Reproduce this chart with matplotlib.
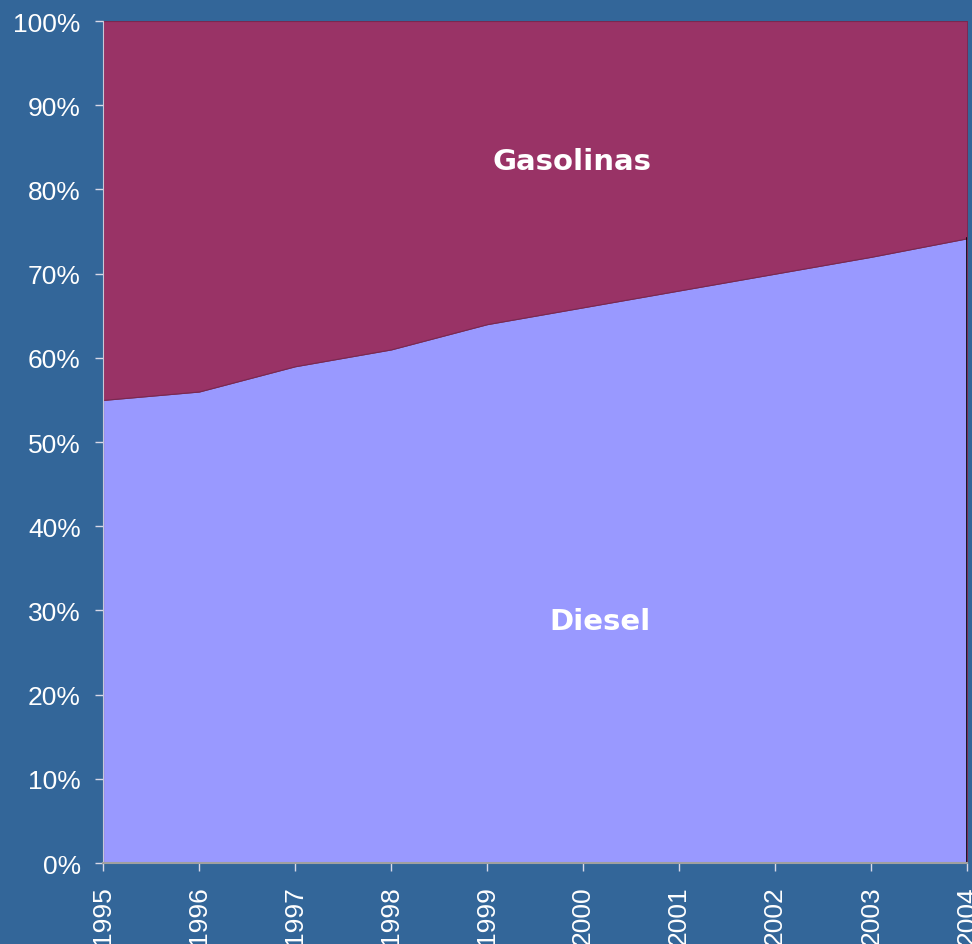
import numpy as np
import matplotlib.pyplot as plt

years = [1995, 1996, 1997, 1998, 1999, 2000, 2001, 2002, 2003, 2004]
diesel = [55, 56, 59, 61, 64, 66, 68, 70, 72, 74.2]
gasolinas = [100 - d for d in diesel]
yticks = [0, 10, 20, 30, 40, 50, 60, 70, 80, 90, 100]

bg = '#336699'
fig = plt.figure(figsize=(9.72, 9.45), dpi=100, facecolor=bg)
ax = fig.add_axes([0.106, 0.0857, 0.889, 0.8910])

ax.stackplot(years, diesel, gasolinas, colors=['#9999FF', '#993366'],
             edgecolor='#7a2850', linewidth=0.8)
ax.plot([years[-1], years[-1]], [0, diesel[-1]], color='black', lw=1.2)

ax.set_xlim(years[0], years[-1])
ax.set_ylim(0, 100)
ax.set_xticks(years)
ax.set_xticklabels([str(y) for y in years], rotation=90)
ax.set_yticks(yticks)
ax.set_yticklabels([f'{v}%' for v in yticks])

for lab in ax.get_xticklabels() + ax.get_yticklabels():
    lab.set_fontfamily('Liberation Sans')
    lab.set_fontsize(19)
    lab.set_color('white')

ax.tick_params(axis='y', length=6, width=1, color='#d8d8e8', pad=10)
ax.tick_params(axis='x', length=6, width=1, color='#d8d8e8', pad=10)

ax.spines['top'].set_visible(False)
ax.spines['right'].set_visible(False)
ax.spines['left'].set_color('#c8c8d8')
ax.spines['bottom'].set_color('#a0a0a0')
ax.spines['bottom'].set_linewidth(1.5)

ax.text(1999.88, 83.4, 'Gasolinas', color='white', fontsize=21,
        fontweight='bold', family='DejaVu Sans', ha='center', va='center')
ax.text(2000.18, 28.7, 'Diesel', color='white', fontsize=21,
        fontweight='bold', family='DejaVu Sans', ha='center', va='center')

fig.savefig('out.png', dpi=100, facecolor=bg)
